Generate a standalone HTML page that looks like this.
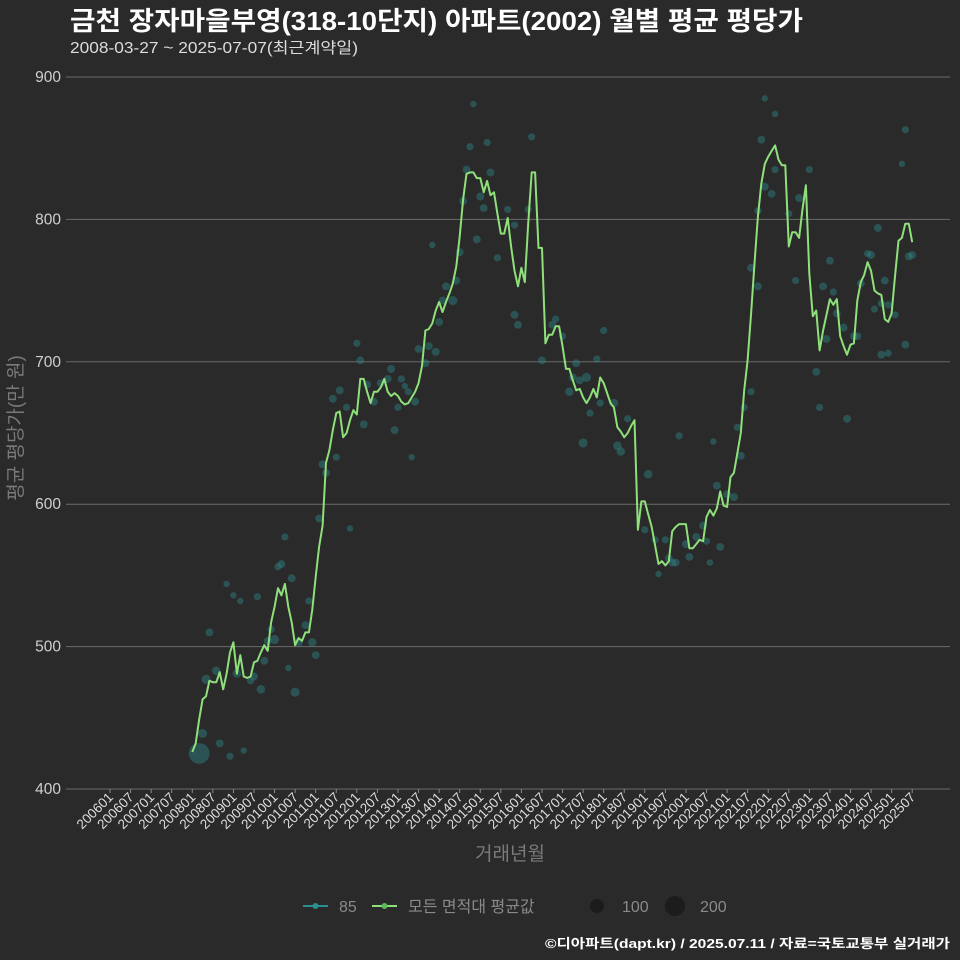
<!DOCTYPE html>
<html><head><meta charset="utf-8">
<style>
html,body{margin:0;padding:0;background:#2a2a2b;}
svg{display:block;font-family:"Liberation Sans","Noto Sans CJK KR",sans-serif;}
</style></head>
<body>
<svg id="chart" width="960" height="960" viewBox="0 0 960 960" xmlns="http://www.w3.org/2000/svg">
<rect x="0" y="0" width="960" height="960" fill="#2a2a2b"/>
<text x="70" y="30" fill="#ffffff" font-size="26" font-weight="bold" textLength="733" lengthAdjust="spacingAndGlyphs">금천 장자마을부영(318-10단지) 아파트(2002) 월별 평균 평당가</text>
<text x="70" y="53" fill="#dddddd" font-size="15.5" textLength="288" lengthAdjust="spacingAndGlyphs">2008-03-27 ~ 2025-07-07(최근계약일)</text>
<g id="grid"></g>
<g id="yaxis"></g>
<g id="xaxis"></g>
<g id="dots"></g>
<g id="line"></g>
<text transform="translate(22,428) rotate(-90)" text-anchor="middle" fill="#7a7a7a" font-size="19">평균 평당가(만 원)</text>
<text x="510" y="860" text-anchor="middle" fill="#7a7a7a" font-size="19">거래년월</text>
<g>
  <g>
    <line x1="303" y1="906" x2="328" y2="906" stroke="#2a8f8f" stroke-width="2"/>
    <circle cx="315.5" cy="906" r="3" fill="#2a8f8f"/>
    <text x="339" y="912" fill="#8a8a8a" font-size="16">85</text>
  </g>
  <g>
    <line x1="372" y1="906" x2="397" y2="906" stroke="#8fe07a" stroke-width="2"/>
    <circle cx="384.5" cy="906" r="3" fill="#5fb85a"/>
    <text x="408" y="912" fill="#8a8a8a" font-size="16">모든 면적대 평균값</text>
  </g>
  <g>
    <circle cx="597" cy="906" r="7" fill="#1c1c1c"/>
    <text x="622" y="912" fill="#8a8a8a" font-size="16">100</text>
  </g>
  <g>
    <circle cx="675" cy="906" r="10" fill="#1c1c1c"/>
    <text x="700" y="912" fill="#8a8a8a" font-size="16">200</text>
  </g>
</g>
<text x="950" y="948" text-anchor="end" fill="#ffffff" font-size="13" font-weight="bold" textLength="405" lengthAdjust="spacingAndGlyphs">©디아파트(dapt.kr) / 2025.07.11 / 자료=국토교통부 실거래가</text>
</svg>
<script>
const yTicks=[400,500,600,700,800,900];
const xTickLabels=[];
for(let y=2006;y<=2025;y++){xTickLabels.push(y+"01");xTickLabels.push(y+"07");}
const avgValues=[426,432,449,463,465,476,475,475,482,470,481,496,503,481,494,479,478,479,489,490,496,501,497,517,528,541,536,544,528,517,501,506,504,510,510,526,549,570,585,629,638,652,664,665,647,650,659,666,663,688,688,679,671,679,679,682,688,679,676,678,676,672,670,671,675,679,685,697,722,723,727,736,742,735,742,748,755,767,788,814,832,833,833,829,829,819,827,817,819,804,790,790,801,781,764,753,766,756,797,833,833,780,780,713,719,719,725,725,711,695,695,687,680,681,675,671,675,681,675,689,685,678,671,668,654,651,647,650,655,659,582,602,602,593,584,571,558,560,557,560,581,584,586,586,586,569,569,572,575,574,591,596,592,597,609,599,598,619,622,636,650,680,701,734,769,802,825,839,844,848,852,842,838,838,781,791,791,787,807,824,762,732,736,708,722,733,744,740,744,718,711,705,712,713,743,756,761,770,764,750,748,747,730,728,734,760,785,787,797,797,784];
const dotIdx=[2,3,8,11,15,5,4,7,10,12,14,13,19,17,18,20,21,22,23,24,25,26,27,29,28,30,31,33,34,35,36,37,38,39,42,41,43,45,46,48,49,50,51,53,55,57,58,59,60,61,62,63,64,65,68,66,69,71,81,86,80,87,79,84,85,92,98,70,83,78,89,94,74,77,76,73,72,94,95,102,105,106,108,120,112,111,113,115,118,110,116,119,123,127,124,125,114,133,142,132,135,138,139,141,136,140,144,147,149,150,145,151,154,152,153,156,158,159,160,161,163,165,163,165,167,169,166,170,174,176,177,180,182,183,184,186,187,188,185,190,191,193,194,195,197,198,200,199,201,202,203,205,201,203,207,208,208,209,82,99,167,170,210];
const dotValues=[425,439,432,423,427,510,477,483,544,536,532,481,535,476,479,470,490,504,512,505,556,558,577,548,485,468,503,515,532,503,494,590,628,622,633,674,680,668,583,713,701,656,684,672,685,688,695,652,668,688,683,679,633,672,699,709,711,707,851,854,835,833,813,816,808,807,807,782,786,777,773,796,753,757,743,743,728,733,726,701,726,730,718,722,699,689,687,689,702,679,664,671,671,660,641,637,643,621,648,582,575,575,562,559,551,559,572,577,585,574,563,559,570,644,613,607,605,654,634,668,679,753,766,806,823,818,856,835,804,757,815,835,693,668,753,771,749,734,716,724,660,718,718,755,776,775,794,737,741,757,740,733,705,706,839,863,712,774,881,858,885,874,775];
const dotCounts=[210,40,30,25,20,30,40,35,20,20,20,35,25,25,30,35,30,30,25,40,25,30,25,30,20,40,35,30,25,35,30,30,30,30,25,30,30,25,20,25,30,30,30,30,30,30,30,30,25,25,20,25,20,30,30,30,30,30,25,25,30,30,30,30,30,25,25,20,30,30,25,25,30,30,40,30,30,30,30,30,30,25,25,25,30,30,30,40,25,35,25,25,35,25,35,35,40,35,25,25,25,25,30,30,20,30,30,30,30,25,30,20,30,20,30,30,30,25,30,25,25,30,30,25,30,30,30,25,25,25,30,25,30,25,30,30,25,30,30,30,30,30,30,30,25,30,30,25,25,30,25,25,30,25,20,25,30,30,20,25,20,20,30];

const NS="http://www.w3.org/2000/svg";
const X0=66,X1=950,Y0=789,PXU=1.424;
function yScale(v){return Y0-(v-400)*PXU;}
function xTick(k){return 110+k*20.57;}
function xData(i){return 192.3+i*3.428;}
function mk(t,a,parent){const e=document.createElementNS(NS,t);for(const k in a)e.setAttribute(k,a[k]);parent.appendChild(e);return e;}

const grid=document.getElementById('grid'),ya=document.getElementById('yaxis'),xa=document.getElementById('xaxis');
yTicks.forEach(v=>{
  const l=mk('line',{x1:X0,x2:X1,y1:yScale(v),y2:yScale(v),stroke:'#6a6a6a','stroke-width':1},grid);
  
  
  const t=mk('text',{x:61,y:yScale(v)+5,'text-anchor':'end',fill:'#cfcfcf','font-size':15.5},ya);
  t.textContent=v;
  
  
});
xTickLabels.forEach((lab,k)=>{
  const x=xTick(k);
  const tk=mk('line',{x1:x,x2:x,y1:Y0,y2:Y0+4,stroke:'#8a8a8a','stroke-width':1},xa);
  
  
  const t=mk('text',{transform:'translate('+(x+4)+','+(Y0+9)+') rotate(-45)','text-anchor':'end',fill:'#dddddd','font-size':13.5},xa);
  t.textContent=lab;
  
  
});

const dots=document.getElementById('dots');
dotIdx.forEach((ix,j)=>{
  const r=Math.sqrt(dotCounts[j])*0.72;
  const c=mk('circle',{cx:xData(ix),cy:yScale(dotValues[j]),r:r,fill:'#2e8585','fill-opacity':0.45},dots);
  
  
});

const lg=document.getElementById('line');
const pts=avgValues.map((v,i)=>xData(i).toFixed(1)+','+yScale(v).toFixed(1)).join(' ');
const pl=mk('polyline',{points:pts,fill:'none',stroke:'#8fe07a','stroke-width':2,'stroke-linejoin':'round'},lg);


</script>
</body></html>
